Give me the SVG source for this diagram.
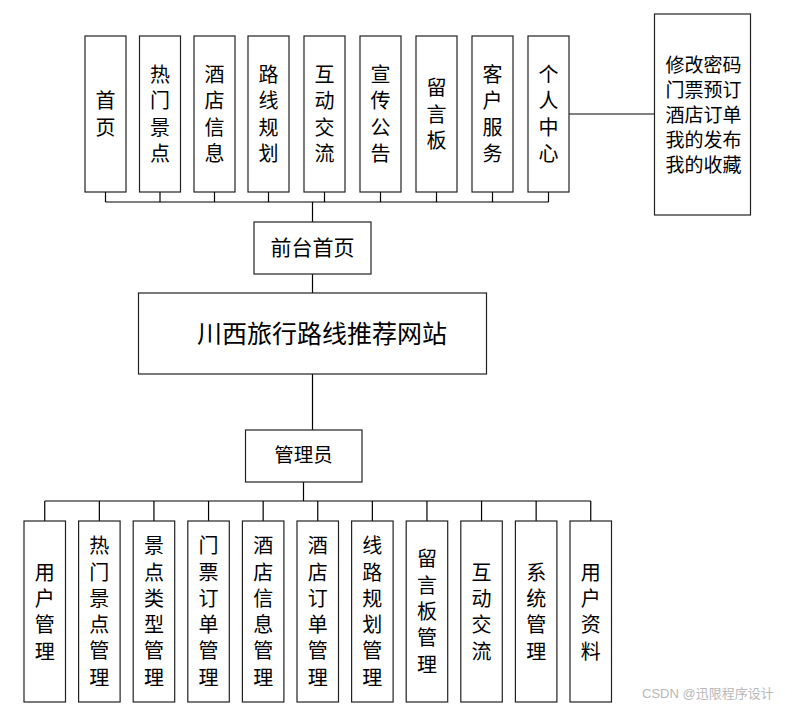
<svg xmlns="http://www.w3.org/2000/svg" width="805" height="714" viewBox="0 0 805 714">
<style>
.box{fill:#fff;stroke:#222;stroke-width:1.2}
.ln{fill:none;stroke:#000;stroke-width:1.2}
.t{font-family:"Noto Sans CJK SC","Liberation Sans",sans-serif;font-size:20px;fill:#000;text-anchor:middle}
.wm{font-family:"Liberation Sans","Noto Sans CJK SC",sans-serif;font-size:13px;fill:#b8b8b8}
</style>
<rect width="805" height="714" fill="#fff"/>
<g id="connectors">
<path class="ln" d="M105.5,192V202M160,192V202M214.5,192V202M268.5,192V202M324.5,192V202M380.5,192V202M436.5,192V202M492.5,192V202M548.5,192V202M105.5,202H548.5M312.5,202V222M312.5,274V293"/>
<path class="ln" d="M569,114H654"/>
<path class="ln" d="M312.5,374V430M303.5,482V501M44.75,501H590.75"/>
<path class="ln" d="M44.75,501V521M99.35,501V521M153.95,501V521M208.55,501V521M263.15,501V521M317.75,501V521M372.35,501V521M426.95,501V521M481.55,501V521M536.15,501V521M590.75,501V521"/>
</g>
<g id="n_shouye"><rect class="box" x="85" y="36" width="41" height="156"/><text class="t"><tspan x="105.5" y="108.3">首</tspan><tspan x="105.5" y="134.7">页</tspan></text></g>
<g id="n_remen"><rect class="box" x="139.5" y="36" width="41" height="156"/><text class="t"><tspan x="160" y="81.9">热</tspan><tspan x="160" y="108.3">门</tspan><tspan x="160" y="134.7">景</tspan><tspan x="160" y="161.1">点</tspan></text></g>
<g id="n_jiudian"><rect class="box" x="194" y="36" width="41" height="156"/><text class="t"><tspan x="214.5" y="81.9">酒</tspan><tspan x="214.5" y="108.3">店</tspan><tspan x="214.5" y="134.7">信</tspan><tspan x="214.5" y="161.1">息</tspan></text></g>
<g id="n_luxian"><rect class="box" x="248" y="36" width="41" height="156"/><text class="t"><tspan x="268.5" y="81.9">路</tspan><tspan x="268.5" y="108.3">线</tspan><tspan x="268.5" y="134.7">规</tspan><tspan x="268.5" y="161.1">划</tspan></text></g>
<g id="n_hudong"><rect class="box" x="304" y="36" width="41" height="156"/><text class="t"><tspan x="324.5" y="81.9">互</tspan><tspan x="324.5" y="108.3">动</tspan><tspan x="324.5" y="134.7">交</tspan><tspan x="324.5" y="161.1">流</tspan></text></g>
<g id="n_xuanchuan"><rect class="box" x="360" y="36" width="41" height="156"/><text class="t"><tspan x="380.5" y="81.9">宣</tspan><tspan x="380.5" y="108.3">传</tspan><tspan x="380.5" y="134.7">公</tspan><tspan x="380.5" y="161.1">告</tspan></text></g>
<g id="n_liuyan"><rect class="box" x="416" y="36" width="41" height="156"/><text class="t"><tspan x="436.5" y="95.1">留</tspan><tspan x="436.5" y="121.5">言</tspan><tspan x="436.5" y="147.9">板</tspan></text></g>
<g id="n_kehu"><rect class="box" x="472" y="36" width="41" height="156"/><text class="t"><tspan x="492.5" y="81.9">客</tspan><tspan x="492.5" y="108.3">户</tspan><tspan x="492.5" y="134.7">服</tspan><tspan x="492.5" y="161.1">务</tspan></text></g>
<g id="n_geren"><rect class="box" x="528" y="36" width="41" height="156"/><text class="t"><tspan x="548.5" y="81.9">个</tspan><tspan x="548.5" y="108.3">人</tspan><tspan x="548.5" y="134.7">中</tspan><tspan x="548.5" y="161.1">心</tspan></text></g>
<g id="n_gerenlist"><rect class="box" x="654.5" y="14" width="96" height="201"/><text class="t" style="font-size:19px"><tspan x="703.5" y="71.5">修改密码</tspan><tspan x="703.5" y="96.5">门票预订</tspan><tspan x="703.5" y="121.5">酒店订单</tspan><tspan x="703.5" y="146.5">我的发布</tspan><tspan x="703.5" y="171.5">我的收藏</tspan></text></g>
<g id="n_qiantai"><rect class="box" x="254" y="222" width="117" height="52"/><text class="t" x="312.5" y="255" style="font-size:21px">前台首页</text></g>
<g id="n_main"><rect class="box" x="138.5" y="293" width="348" height="81"/><text class="t" x="322" y="342.5" style="font-size:25px">川西旅行路线推荐网站</text></g>
<g id="n_admin"><rect class="box" x="245.5" y="430" width="116.5" height="52"/><text class="t" x="303.5" y="461.5" style="font-size:19.5px">管理员</text></g>
<g id="b1"><rect class="box" x="24" y="521" width="41.5" height="181"/><text class="t"><tspan x="44.75" y="579.5">用</tspan><tspan x="44.75" y="605.8">户</tspan><tspan x="44.75" y="632.2">管</tspan><tspan x="44.75" y="658.5">理</tspan></text></g>
<g id="b2"><rect class="box" x="78.6" y="521" width="41.5" height="181"/><text class="t"><tspan x="99.35" y="553.25">热</tspan><tspan x="99.35" y="579.55">门</tspan><tspan x="99.35" y="605.85">景</tspan><tspan x="99.35" y="632.15">点</tspan><tspan x="99.35" y="658.45">管</tspan><tspan x="99.35" y="684.75">理</tspan></text></g>
<g id="b3"><rect class="box" x="133.2" y="521" width="41.5" height="181"/><text class="t"><tspan x="153.95" y="553.25">景</tspan><tspan x="153.95" y="579.55">点</tspan><tspan x="153.95" y="605.85">类</tspan><tspan x="153.95" y="632.15">型</tspan><tspan x="153.95" y="658.45">管</tspan><tspan x="153.95" y="684.75">理</tspan></text></g>
<g id="b4"><rect class="box" x="187.8" y="521" width="41.5" height="181"/><text class="t"><tspan x="208.55" y="553.25">门</tspan><tspan x="208.55" y="579.55">票</tspan><tspan x="208.55" y="605.85">订</tspan><tspan x="208.55" y="632.15">单</tspan><tspan x="208.55" y="658.45">管</tspan><tspan x="208.55" y="684.75">理</tspan></text></g>
<g id="b5"><rect class="box" x="242.4" y="521" width="41.5" height="181"/><text class="t"><tspan x="263.15" y="553.25">酒</tspan><tspan x="263.15" y="579.55">店</tspan><tspan x="263.15" y="605.85">信</tspan><tspan x="263.15" y="632.15">息</tspan><tspan x="263.15" y="658.45">管</tspan><tspan x="263.15" y="684.75">理</tspan></text></g>
<g id="b6"><rect class="box" x="297" y="521" width="41.5" height="181"/><text class="t"><tspan x="317.75" y="553.25">酒</tspan><tspan x="317.75" y="579.55">店</tspan><tspan x="317.75" y="605.85">订</tspan><tspan x="317.75" y="632.15">单</tspan><tspan x="317.75" y="658.45">管</tspan><tspan x="317.75" y="684.75">理</tspan></text></g>
<g id="b7"><rect class="box" x="351.6" y="521" width="41.5" height="181"/><text class="t"><tspan x="372.35" y="553.25">线</tspan><tspan x="372.35" y="579.55">路</tspan><tspan x="372.35" y="605.85">规</tspan><tspan x="372.35" y="632.15">划</tspan><tspan x="372.35" y="658.45">管</tspan><tspan x="372.35" y="684.75">理</tspan></text></g>
<g id="b8"><rect class="box" x="406.2" y="521" width="41.5" height="181"/><text class="t"><tspan x="426.95" y="566.4">留</tspan><tspan x="426.95" y="592.7">言</tspan><tspan x="426.95" y="619">板</tspan><tspan x="426.95" y="645.3">管</tspan><tspan x="426.95" y="671.6">理</tspan></text></g>
<g id="b9"><rect class="box" x="460.8" y="521" width="41.5" height="181"/><text class="t"><tspan x="481.55" y="579.5">互</tspan><tspan x="481.55" y="605.8">动</tspan><tspan x="481.55" y="632.2">交</tspan><tspan x="481.55" y="658.5">流</tspan></text></g>
<g id="b10"><rect class="box" x="515.4" y="521" width="41.5" height="181"/><text class="t"><tspan x="536.15" y="579.5">系</tspan><tspan x="536.15" y="605.8">统</tspan><tspan x="536.15" y="632.2">管</tspan><tspan x="536.15" y="658.5">理</tspan></text></g>
<g id="b11"><rect class="box" x="570" y="521" width="41.5" height="181"/><text class="t"><tspan x="590.75" y="579.5">用</tspan><tspan x="590.75" y="605.8">户</tspan><tspan x="590.75" y="632.2">资</tspan><tspan x="590.75" y="658.5">料</tspan></text></g>
<text class="wm" x="642" y="698">CSDN @迅限程序设计</text>
</svg>
